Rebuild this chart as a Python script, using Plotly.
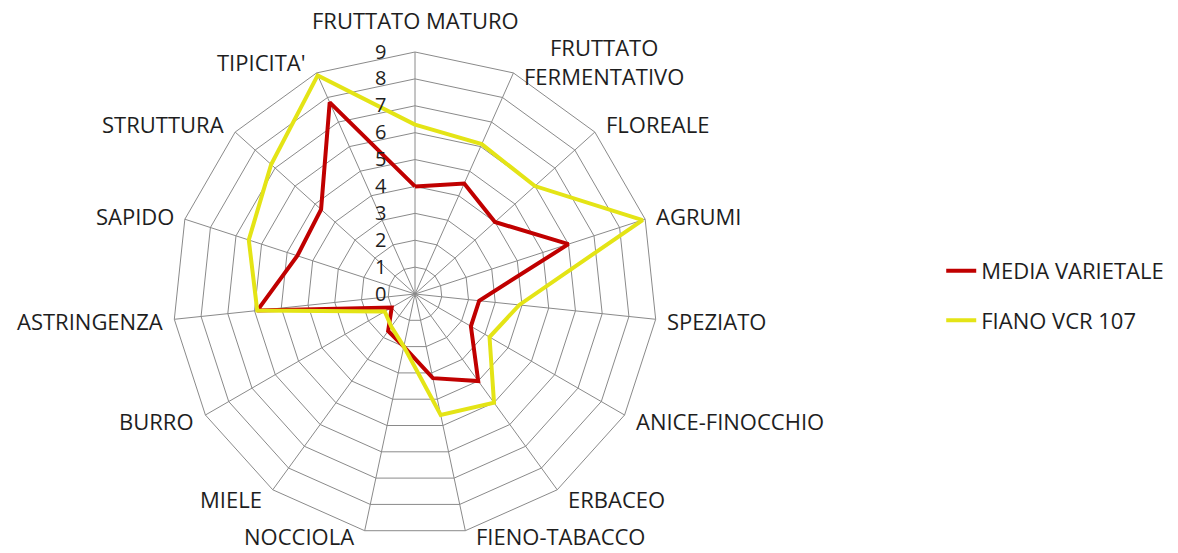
import math
import plotly.graph_objects as go

categories = ["FRUTTATO MATURO", "FRUTTATO<br>FERMENTATIVO", "FLOREALE", "AGRUMI", "SPEZIATO",
              "ANICE-FINOCCHIO", "ERBACEO", "FIENO-TABACCO", "NOCCIOLA", "MIELE", "BURRO",
              "ASTRINGENZA", "SAPIDO", "STRUTTURA", "TIPICITA'"]
media_varietale = [4.0, 4.5, 4.0, 6.0, 2.4, 2.4, 4.0, 3.2, 2.0, 1.7, 1.0, 5.9, 4.6, 4.7, 7.8]
fiano_vcr_107 = [6.3, 6.1, 6.0, 8.9, 3.9, 3.2, 5.0, 4.6, 2.0, 1.5, 1.3, 5.9, 6.5, 7.2, 8.9]
radial_ticks = [0, 1, 2, 3, 4, 5, 6, 7, 8, 9]

W, H = 1178, 553
cx, cy, R = 415, 294, 242

FONT = "Open Sans"
TXT = "#1e1e1e"
GRID = "#8a8a8a"
LABEL_SIZE = 22

fig = go.Figure()
fig.add_trace(go.Scatterpolar(
    r=media_varietale + media_varietale[:1],
    theta=categories + categories[:1],
    mode="lines", name="MEDIA VARIETALE",
    line=dict(color="#C00000", width=4),
    legendgroup="a",
))
fig.add_trace(go.Scatterpolar(
    r=fiano_vcr_107 + fiano_vcr_107[:1],
    theta=categories + categories[:1],
    mode="lines", name="FIANO VCR 107",
    line=dict(color="#E4E416", width=4),
    legendgroup="b",
))

# category labels placed just outside each outer polygon vertex (Excel-style placement)
n = len(categories)
half_box = LABEL_SIZE * 0.72
annotations = []
for i, lab in enumerate(categories):
    th = math.radians(360.0 * i / n)
    s, c = math.sin(th), math.cos(th)
    vx = cx + R * s
    vy = cy - R * c
    if abs(s) < 0.1:
        xanchor, xshift = "center", 0
        yanchor, yshift = ("bottom", 16) if c > 0 else ("top", -10)
    else:
        xanchor = "left" if s > 0 else "right"
        xshift = 10 if s > 0 else -10
        yanchor = "middle"
        # keep the text box inside the page at the bottom
        yshift = max(12 * c, vy + half_box - (H - 1))
    annotations.append(dict(
        text=lab, x=vx / W, y=1 - vy / H, xref="paper", yref="paper",
        xanchor=xanchor, yanchor=yanchor, xshift=xshift, yshift=yshift,
        showarrow=False, align="center", borderpad=0,
        font=dict(family=FONT, size=LABEL_SIZE, color=TXT),
    ))

fig.update_layout(
    width=W, height=H,
    margin=dict(l=0, r=0, t=0, b=0),
    paper_bgcolor="white",
    font=dict(family=FONT, size=20, color=TXT),
    polar=dict(
        domain=dict(x=[(cx - R) / W, (cx + R) / W], y=[(H - cy - R) / H, (H - cy + R) / H]),
        bgcolor="white",
        gridshape="linear",
        angularaxis=dict(
            direction="clockwise", rotation=90, type="category",
            categoryorder="array", categoryarray=categories,
            showline=True, linecolor=GRID, linewidth=1,
            gridcolor=GRID, gridwidth=1,
            showticklabels=False, ticks="",
        ),
        radialaxis=dict(
            range=[0, 9], tickvals=radial_ticks, angle=90, side="counterclockwise",
            showline=False, gridcolor=GRID, gridwidth=1,
            ticks="outside", ticklen=21, tickcolor="rgba(0,0,0,0)",
            tickangle=90,
            tickfont=dict(family=FONT, size=20, color=TXT),
        ),
    ),
    annotations=annotations,
    showlegend=True,
    legend=dict(
        x=0.799, y=0.465, xanchor="left", yanchor="middle",
        font=dict(family=FONT, size=22, color=TXT),
        tracegroupgap=18, bgcolor="rgba(0,0,0,0)",
    ),
)

fig.write_html("out.html")
